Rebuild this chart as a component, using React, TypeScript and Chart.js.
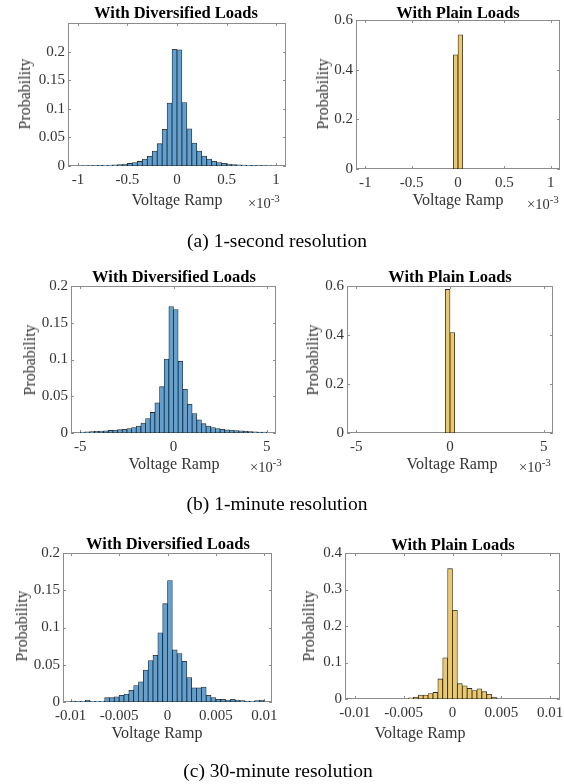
import React, { useEffect, useRef } from 'react';
import { Chart, registerables } from 'chart.js';

Chart.register(...registerables);

// ---------------- data ----------------
// (a) 1-second resolution, x in units of 1e-3
const A_DIV_BIN_START = -1;
const A_DIV_BIN_WIDTH = 0.05;
const A_DIV_VALUES = [
  0.0004, 0.0005, 0.0006, 0.0008, 0.001, 0.0012, 0.0015, 0.002, 0.0027, 0.0035,
  0.0045, 0.006, 0.008, 0.012, 0.017, 0.026, 0.039, 0.064, 0.11, 0.204,
  0.203, 0.111, 0.065, 0.04, 0.026, 0.0175, 0.012, 0.0082, 0.006, 0.0046,
  0.0035, 0.0027, 0.002, 0.0015, 0.0012, 0.001, 0.0008, 0.0006, 0.0005, 0.0004,
];
const A_PLAIN_BIN_START = -0.05;
const A_PLAIN_BIN_WIDTH = 0.05;
const A_PLAIN_VALUES = [0.46, 0.54];
const A_X_TICKS = [-1, -0.5, 0, 0.5, 1];
const A_DIV_Y_TICKS = [0, 0.05, 0.1, 0.15, 0.2];
const A_PLAIN_Y_TICKS = [0, 0.2, 0.4, 0.6];

// (b) 1-minute resolution, x in units of 1e-3
const B_DIV_BIN_START = -5;
const B_DIV_BIN_WIDTH = 0.25;
const B_DIV_VALUES = [
  0.0012, 0.0015, 0.0018, 0.0022, 0.0026, 0.003, 0.0035, 0.004, 0.0045, 0.005,
  0.006, 0.0073, 0.0095, 0.0136, 0.0196, 0.028, 0.041, 0.063, 0.1005, 0.172,
  0.168, 0.0977, 0.0595, 0.039, 0.0264, 0.018, 0.0127, 0.0095, 0.0075, 0.006,
  0.005, 0.0044, 0.0039, 0.0034, 0.003, 0.0025, 0.0021, 0.0017, 0.0014, 0.0011,
];
const B_PLAIN_BIN_START = -0.25;
const B_PLAIN_BIN_WIDTH = 0.25;
const B_PLAIN_VALUES = [0.586, 0.41];
const B_X_TICKS = [-5, 0, 5];
const B_DIV_Y_TICKS = [0, 0.05, 0.1, 0.15, 0.2];
const B_PLAIN_Y_TICKS = [0, 0.2, 0.4, 0.6];

// (c) 30-minute resolution
const C_DIV_BIN_START = -0.01;
const C_DIV_BIN_WIDTH = 0.0005;
const C_DIV_VALUES = [
  0.0013, 0.0005, 0.001, 0.0027, 0.001, 0.001, 0.001, 0.0058, 0.0058, 0.007,
  0.009, 0.0107, 0.0157, 0.022, 0.027, 0.043, 0.0555, 0.0626, 0.093, 0.132,
  0.163, 0.07, 0.065, 0.0546, 0.0327, 0.019, 0.019, 0.02, 0.009, 0.006,
  0.0036, 0.0036, 0.0027, 0.0036, 0.0027, 0.0018, 0.0013, 0.001, 0.0018, 0.0027,
];
const C_PLAIN_BIN_START = -0.0045;
const C_PLAIN_BIN_WIDTH = 0.0005;
const C_PLAIN_VALUES = [
  0.003, 0.005, 0.011, 0.011, 0.015, 0.018, 0.055, 0.113, 0.357,
  0.243, 0.042, 0.036, 0.029, 0.023, 0.028, 0.02, 0.013, 0.005,
];
const C_X_TICKS = [-0.01, -0.005, 0, 0.005, 0.01];
const C_DIV_Y_TICKS = [0, 0.05, 0.1, 0.15, 0.2];
const C_PLAIN_Y_TICKS = [0, 0.1, 0.2, 0.3, 0.4];

const TITLE_DIV = 'With Diversified Loads';
const TITLE_PLAIN = 'With Plain Loads';
const X_LABEL = 'Voltage Ramp';
const Y_LABEL = 'Probability';
const CAPTIONS = ['(a) 1-second resolution', '(b) 1-minute resolution', '(c) 30-minute resolution'];

// ---------------- styles ----------------
const SERIF = '"Liberation Serif", "Times New Roman", Times, serif';
const BLUE_FILL = 'rgb(96,161,212)';
const GOLD_FILL = 'rgb(237,200,106)';
const EDGE = 'rgba(20,20,20,0.9)';
const AXIS_COLOR = '#8c8c8c';
const TEXT_COLOR = '#333333';

const L = 50; // y-axis width
const T = 12; // top padding
const R = 26; // right padding
const B = 30; // x-axis height

type PanelCfg = {
  values: number[];
  binStart: number;
  binWidth: number;
  xMin: number;
  xMax: number;
  yMax: number;
  xTicks: number[];
  yTicks: number[];
  fill: string;
  plot: { l: number; t: number; r: number; b: number };
  title: string;
  titlePos: [number, number];
  yLabelPos: [number, number];
  xLabelPos: [number, number];
  expPos?: [number, number];
};

const PANELS: PanelCfg[] = [
  {
    values: A_DIV_VALUES, binStart: A_DIV_BIN_START, binWidth: A_DIV_BIN_WIDTH,
    xMin: -1.1, xMax: 1.1, yMax: 0.25, xTicks: A_X_TICKS, yTicks: A_DIV_Y_TICKS, fill: BLUE_FILL,
    plot: { l: 68, t: 23, r: 286, b: 166 }, title: TITLE_DIV,
    titlePos: [176, 13], yLabelPos: [25, 94], xLabelPos: [177, 200], expPos: [248, 203],
  },
  {
    values: A_PLAIN_VALUES, binStart: A_PLAIN_BIN_START, binWidth: A_PLAIN_BIN_WIDTH,
    xMin: -1.1, xMax: 1.1, yMax: 0.6, xTicks: A_X_TICKS, yTicks: A_PLAIN_Y_TICKS, fill: GOLD_FILL,
    plot: { l: 356, t: 20, r: 560, b: 169 }, title: TITLE_PLAIN,
    titlePos: [458, 12.5], yLabelPos: [323, 94], xLabelPos: [458, 200], expPos: [527, 204],
  },
  {
    values: B_DIV_VALUES, binStart: B_DIV_BIN_START, binWidth: B_DIV_BIN_WIDTH,
    xMin: -5.5, xMax: 5.5, yMax: 0.2, xTicks: B_X_TICKS, yTicks: B_DIV_Y_TICKS, fill: BLUE_FILL,
    plot: { l: 71, t: 286, r: 276, b: 433 }, title: TITLE_DIV,
    titlePos: [174, 277], yLabelPos: [30, 359.5], xLabelPos: [174, 464], expPos: [250, 467],
  },
  {
    values: B_PLAIN_VALUES, binStart: B_PLAIN_BIN_START, binWidth: B_PLAIN_BIN_WIDTH,
    xMin: -5.5, xMax: 5.5, yMax: 0.6, xTicks: B_X_TICKS, yTicks: B_PLAIN_Y_TICKS, fill: GOLD_FILL,
    plot: { l: 347, t: 286, r: 553, b: 433 }, title: TITLE_PLAIN,
    titlePos: [450, 277], yLabelPos: [313, 359.5], xLabelPos: [452, 464], expPos: [519, 467],
  },
  {
    values: C_DIV_VALUES, binStart: C_DIV_BIN_START, binWidth: C_DIV_BIN_WIDTH,
    xMin: -0.0108, xMax: 0.0108, yMax: 0.2, xTicks: C_X_TICKS, yTicks: C_DIV_Y_TICKS, fill: BLUE_FILL,
    plot: { l: 63, t: 553, r: 272, b: 702 }, title: TITLE_DIV,
    titlePos: [168, 543.5], yLabelPos: [22, 626], xLabelPos: [157, 733],
  },
  {
    values: C_PLAIN_VALUES, binStart: C_PLAIN_BIN_START, binWidth: C_PLAIN_BIN_WIDTH,
    xMin: -0.011, xMax: 0.011, yMax: 0.4, xTicks: C_X_TICKS, yTicks: C_PLAIN_Y_TICKS, fill: GOLD_FILL,
    plot: { l: 345, t: 553, r: 560, b: 699 }, title: TITLE_PLAIN,
    titlePos: [453, 544.5], yLabelPos: [309, 626], xLabelPos: [420, 733],
  },
];

const CAPTION_POS: [number, number][] = [
  [277, 240.5],
  [277, 504],
  [278, 770.5],
];

// box + inward tick marks, MATLAB style
const boxPlugin = {
  id: 'matlabBox',
  beforeDatasetsDraw(chart: any) {
    const { ctx, chartArea: a, scales } = chart;
    const tl = 3;
    ctx.save();
    ctx.strokeStyle = AXIS_COLOR;
    ctx.lineWidth = 1;
    ctx.strokeRect(a.left + 0.5, a.top + 0.5, a.right - a.left - 1, a.bottom - a.top - 1);
    ctx.beginPath();
    scales.x.ticks.forEach((t: any) => {
      const px = Math.round(scales.x.getPixelForValue(t.value)) + 0.5;
      ctx.moveTo(px, a.bottom);
      ctx.lineTo(px, a.bottom - tl);
      ctx.moveTo(px, a.top);
      ctx.lineTo(px, a.top + tl);
    });
    scales.y.ticks.forEach((t: any) => {
      const py = Math.round(scales.y.getPixelForValue(t.value)) + 0.5;
      ctx.moveTo(a.left, py);
      ctx.lineTo(a.left + tl, py);
      ctx.moveTo(a.right, py);
      ctx.lineTo(a.right - tl, py);
    });
    ctx.stroke();
    ctx.restore();
  },
};

function Histogram({ cfg }: { cfg: PanelCfg }) {
  const ref = useRef<HTMLCanvasElement | null>(null);
  const w = cfg.plot.r - cfg.plot.l + L + R;
  const h = cfg.plot.b - cfg.plot.t + T + B;

  useEffect(() => {
    if (!ref.current) return;
    const data = cfg.values.map((v, i) => ({ x: cfg.binStart + cfg.binWidth * (i + 0.5), y: v }));
    const tickFont = { family: SERIF, size: 15 };
    const chart = new Chart(ref.current, {
      type: 'bar',
      data: {
        datasets: [
          {
            data: data as any,
            backgroundColor: cfg.fill,
            borderColor: EDGE,
            borderWidth: 0.8,
            borderSkipped: false,
            barPercentage: 1,
            categoryPercentage: 1,
            grouped: false,
          } as any,
        ],
      },
      options: {
        animation: false,
        responsive: false,
        maintainAspectRatio: false,
        devicePixelRatio: 1,
        layout: { padding: { left: 0, top: T, right: R, bottom: 0 } },
        plugins: {
          legend: { display: false },
          tooltip: { enabled: false },
          title: { display: false },
        },
        scales: {
          x: {
            type: 'linear',
            min: cfg.xMin,
            max: cfg.xMax,
            offset: false,
            grid: { display: false, drawTicks: false, offset: false },
            border: { display: false },
            ticks: {
              autoSkip: false,
              maxRotation: 0,
              minRotation: 0,
              padding: 5,
              color: TEXT_COLOR,
              font: tickFont,
              callback: (v: any) => String(v),
            },
            afterBuildTicks: (s: any) => {
              s.ticks = cfg.xTicks.map((v) => ({ value: v }));
            },
            afterFit: (s: any) => {
              s.height = B;
            },
          },
          y: {
            type: 'linear',
            min: 0,
            max: cfg.yMax,
            grid: { display: false, drawTicks: false },
            border: { display: false },
            ticks: {
              padding: 3,
              color: TEXT_COLOR,
              font: tickFont,
              callback: (v: any) => String(v),
            },
            afterBuildTicks: (s: any) => {
              s.ticks = cfg.yTicks.map((v) => ({ value: v }));
            },
            afterFit: (s: any) => {
              s.width = L;
            },
          },
        },
      } as any,
      plugins: [boxPlugin],
    });
    return () => chart.destroy();
  }, [cfg]);

  return (
    <canvas
      ref={ref}
      width={w}
      height={h}
      style={{
        position: 'absolute',
        left: cfg.plot.l - L,
        top: cfg.plot.t - T,
        width: w,
        height: h,
      }}
    />
  );
}

function Centered({
  x, y, size, bold, rotate, color, children,
}: {
  x: number; y: number; size: number; bold?: boolean; rotate?: boolean; color?: string; children: React.ReactNode;
}) {
  return (
    <div
      style={{
        position: 'absolute',
        left: x,
        top: y,
        transform: `translate(-50%, -50%)${rotate ? ' rotate(-90deg)' : ''}`,
        fontFamily: SERIF,
        fontSize: size,
        fontWeight: bold ? 'bold' : 'normal',
        lineHeight: 1,
        whiteSpace: 'nowrap',
        color: color || '#000',
      }}
    >
      {children}
    </div>
  );
}

export default function App() {
  return (
    <div
      style={{
        position: 'fixed',
        left: 0,
        top: 0,
        width: 564,
        height: 784,
        overflow: 'hidden',
        background: '#fff',
      }}
    >
      {PANELS.map((p, i) => (
        <React.Fragment key={i}>
          <Histogram cfg={p} />
          <Centered x={p.titlePos[0]} y={p.titlePos[1]} size={16.5} bold>
            {p.title}
          </Centered>
          <Centered x={p.yLabelPos[0]} y={p.yLabelPos[1]} size={16} rotate color={TEXT_COLOR}>
            {Y_LABEL}
          </Centered>
          <Centered x={p.xLabelPos[0]} y={p.xLabelPos[1]} size={16} color={TEXT_COLOR}>
            {X_LABEL}
          </Centered>
          {p.expPos && (
            <div
              style={{
                position: 'absolute',
                left: p.expPos[0],
                top: p.expPos[1],
                transform: 'translateY(-50%)',
                fontFamily: SERIF,
                fontSize: 14.5,
                lineHeight: 1,
                whiteSpace: 'nowrap',
                color: TEXT_COLOR,
              }}
            >
              ×10
              <span style={{ fontSize: 11, position: 'relative', top: -6 }}>-3</span>
            </div>
          )}
        </React.Fragment>
      ))}
      {CAPTIONS.map((c, i) => (
        <Centered key={c} x={CAPTION_POS[i][0]} y={CAPTION_POS[i][1]} size={19.5}>
          {c}
        </Centered>
      ))}
    </div>
  );
}
